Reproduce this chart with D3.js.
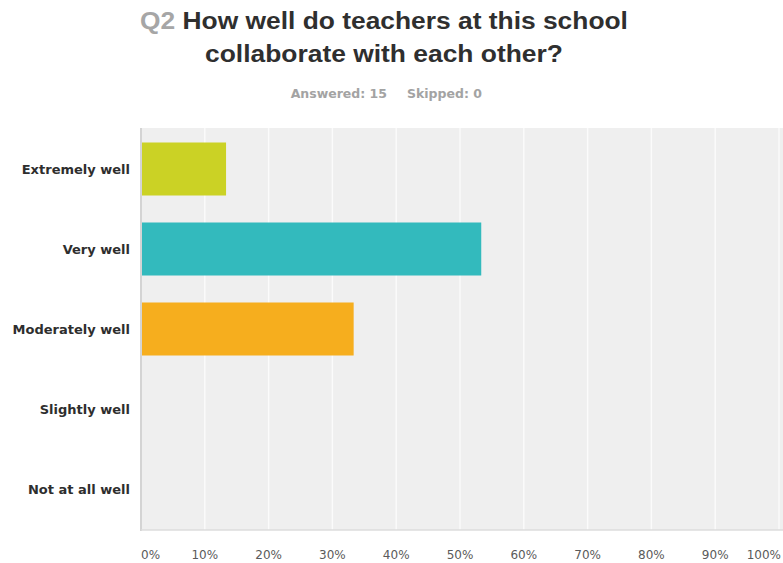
<!DOCTYPE html>
<html>
<head>
<meta charset="utf-8">
<script src="https://cdn.jsdelivr.net/npm/d3@7"></script>
<style>
  html, body { margin: 0; padding: 0; background: #ffffff; }
  svg { display: block; }
</style>
</head>
<body>
<svg id="chart" width="783" height="563"></svg>
<script>
// Survey question Q2: share of responses per answer choice
const categories = ["Extremely well", "Very well", "Moderately well", "Slightly well", "Not at all well"];
const shares = [0.1333, 0.5333, 0.3333, 0, 0];
const barColors = ["#cbd225", "#33babd", "#f6ae1e", "#9d8fc0", "#e06f6f"];
const tickValues = [0, 0.1, 0.2, 0.3, 0.4, 0.5, 0.6, 0.7, 0.8, 0.9, 1.0];
const tickLabels = ["0%", "10%", "20%", "30%", "40%", "50%", "60%", "70%", "80%", "90%", "100%"];
const questionNo = "Q2";
const titleLines = ["How well do teachers at this school", "collaborate with each other?"];
const answered = 15;
const skipped = 0;

const svg = d3.select("#chart");
const plot = { left: 141, right: 783, top: 128, bottom: 530 };

const x = d3.scaleLinear().domain([0, 1]).range([plot.left, 779]);
const y = d3.scaleBand()
  .domain(categories)
  .range([129, 529])
  .paddingInner(0.3375)
  .paddingOuter(0.16875);

// Plot background
svg.append("rect")
  .attr("x", plot.left).attr("y", plot.top)
  .attr("width", plot.right - plot.left).attr("height", plot.bottom - plot.top)
  .attr("fill", "#efefef");

// Vertical gridlines
svg.append("g")
  .selectAll("line")
  .data(tickValues.slice(1))
  .join("line")
  .attr("x1", d => x(d)).attr("x2", d => x(d))
  .attr("y1", plot.top).attr("y2", plot.bottom)
  .attr("stroke", "#fbfbfb")
  .attr("stroke-width", 1.4);

// Bars
svg.append("g")
  .selectAll("rect")
  .data(categories)
  .join("rect")
  .attr("x", x(0))
  .attr("y", d => y(d))
  .attr("width", (d, i) => x(shares[i]) - x(0))
  .attr("height", y.bandwidth())
  .attr("fill", (d, i) => barColors[i]);

// Axis frame lines
svg.append("line")
  .attr("x1", plot.left).attr("x2", plot.left)
  .attr("y1", plot.top).attr("y2", plot.bottom + 1)
  .attr("stroke", "#d4d4d4").attr("stroke-width", 2);
svg.append("line")
  .attr("x1", plot.left).attr("x2", plot.right)
  .attr("y1", plot.bottom).attr("y2", plot.bottom)
  .attr("stroke", "#dcdcdc").attr("stroke-width", 1.5);

// Category labels
svg.append("g")
  .selectAll("text")
  .data(categories)
  .join("text")
  .attr("x", 130)
  .attr("y", d => y(d) + y.bandwidth() / 2)
  .attr("dy", "0.36em")
  .attr("text-anchor", "end")
  .attr("font-family", "DejaVu Sans, Verdana, sans-serif")
  .attr("font-weight", "bold")
  .attr("font-size", "13px")
  .attr("fill", "#2e2e2e")
  .text(d => d);

// Percentage tick labels
svg.append("g")
  .selectAll("text")
  .data(tickValues)
  .join("text")
  .attr("x", (d, i) => i === tickValues.length - 1 ? 781 : x(d))
  .attr("y", 559)
  .attr("text-anchor", (d, i) => i === 0 ? "start" : (i === tickValues.length - 1 ? "end" : "middle"))
  .attr("font-family", "DejaVu Sans, Verdana, sans-serif")
  .attr("font-size", "12px")
  .attr("fill", "#5a5a5a")
  .text((d, i) => tickLabels[i]);

// Title, two centred lines; widened to the chart's title proportions
function stretchTo(sel, targetWidth, cx) {
  const w = sel.node().getComputedTextLength();
  const s = targetWidth / w;
  sel.attr("transform", `translate(${cx},0) scale(${s},1) translate(${-cx},0)`);
}
const cx = 384;
const t1 = svg.append("text")
  .attr("x", cx).attr("y", 29)
  .attr("text-anchor", "middle")
  .attr("font-family", "Liberation Sans, Arial, sans-serif")
  .attr("font-weight", "bold")
  .attr("font-size", "23px")
  .attr("fill", "#2f2f2f");
t1.append("tspan").attr("fill", "#a6a6a6").text(questionNo + " ");
t1.append("tspan").text(titleLines[0]);
stretchTo(t1, 488, cx);

const t2 = svg.append("text")
  .attr("x", cx).attr("y", 62)
  .attr("text-anchor", "middle")
  .attr("font-family", "Liberation Sans, Arial, sans-serif")
  .attr("font-weight", "bold")
  .attr("font-size", "23px")
  .attr("fill", "#2f2f2f")
  .text(titleLines[1]);
stretchTo(t2, 358, cx);

// Response counts
const sub = svg.append("g")
  .attr("font-family", "DejaVu Sans, Verdana, sans-serif")
  .attr("font-weight", "bold")
  .attr("font-size", "12.5px")
  .attr("fill", "#a3a3a3");
sub.append("text").attr("x", 387).attr("y", 98).attr("text-anchor", "end")
  .text(`Answered: ${answered}`);
sub.append("text").attr("x", 407).attr("y", 98).attr("text-anchor", "start")
  .text(`Skipped: ${skipped}`);
</script>
</body>
</html>
